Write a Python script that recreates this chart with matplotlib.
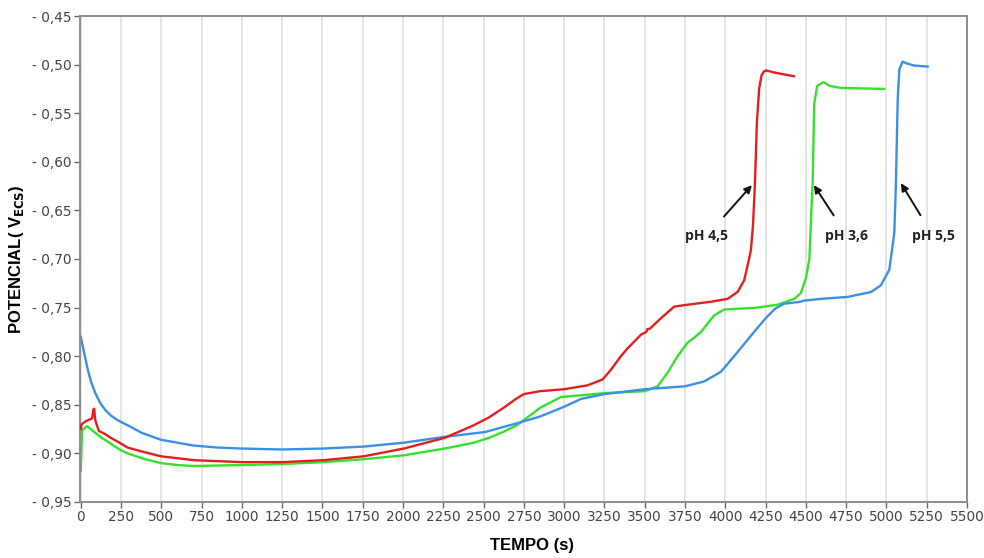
import numpy as np
import matplotlib
matplotlib.use("Agg")
import matplotlib.pyplot as plt

# Open-circuit potential vs time for three pH values
t_ph45 = [0, 5, 30, 70, 78, 83, 90, 112, 150, 186, 240, 290, 400, 497, 600, 703,
          850, 993, 1250, 1506, 1757, 2005, 2259, 2440, 2533, 2625, 2700, 2750,
          2850, 3000, 3145, 3238, 3290, 3352, 3393, 3476, 3510, 3517, 3530, 3600,
          3683, 3766, 3911, 4014, 4076, 4117, 4142, 4159, 4172, 4184, 4196, 4210,
          4225, 4240, 4255, 4300, 4426]
v_ph45 = [-0.875, -0.870, -0.867, -0.864, -0.855, -0.854, -0.866, -0.877, -0.880,
          -0.884, -0.889, -0.894, -0.899, -0.903, -0.905, -0.907, -0.908, -0.909,
          -0.909, -0.907, -0.903, -0.895, -0.884, -0.871, -0.863, -0.853, -0.844,
          -0.839, -0.836, -0.834, -0.830, -0.824, -0.814, -0.800, -0.792, -0.778,
          -0.775, -0.772, -0.772, -0.761, -0.749, -0.747, -0.744, -0.741, -0.734,
          -0.722, -0.704, -0.691, -0.665, -0.622, -0.560, -0.525, -0.511, -0.507,
          -0.506, -0.508, -0.512]

t_ph36 = [0, 8, 40, 83, 130, 186, 240, 290, 400, 497, 600, 703, 993, 1250, 1506,
          1757, 2005, 2259, 2440, 2533, 2620, 2707, 2852, 2980, 3120, 3250, 3500,
          3580, 3642, 3704, 3766, 3807, 3849, 3931, 3993, 4200, 4325, 4428, 4469,
          4500, 4522, 4532, 4542, 4552, 4570, 4610, 4650, 4717, 4985]
v_ph36 = [-0.918, -0.876, -0.872, -0.878, -0.884, -0.890, -0.896, -0.900, -0.906,
          -0.910, -0.912, -0.913, -0.912, -0.911, -0.909, -0.906, -0.902, -0.895,
          -0.889, -0.884, -0.878, -0.871, -0.853, -0.842, -0.840, -0.838, -0.836,
          -0.831, -0.817, -0.800, -0.786, -0.781, -0.775, -0.758, -0.752, -0.750,
          -0.747, -0.741, -0.735, -0.720, -0.700, -0.660, -0.622, -0.540, -0.522,
          -0.518, -0.522, -0.524, -0.525]

t_ph55 = [0, 10, 25, 45, 65, 90, 120, 150, 186, 230, 290, 380, 497, 600, 703, 850,
          993, 1250, 1506, 1757, 2005, 2259, 2510, 2707, 2852, 3000, 3104, 3250,
          3500, 3750, 3869, 3973, 4055, 4179, 4250, 4310, 4366, 4469, 4480, 4594,
          4759, 4904, 4966, 5018, 5049, 5059, 5070, 5080, 5100, 5130, 5173, 5256]
v_ph55 = [-0.780, -0.788, -0.800, -0.815, -0.827, -0.838, -0.848, -0.855, -0.861,
          -0.866, -0.871, -0.879, -0.886, -0.889, -0.892, -0.894, -0.895, -0.896,
          -0.895, -0.893, -0.889, -0.883, -0.878, -0.869, -0.862, -0.852, -0.844,
          -0.839, -0.834, -0.831, -0.826, -0.816, -0.800, -0.775, -0.761, -0.751,
          -0.746, -0.744, -0.743, -0.741, -0.739, -0.734, -0.727, -0.711, -0.673,
          -0.622, -0.536, -0.505, -0.497, -0.499, -0.501, -0.502]

x_ticks = list(range(0, 5501, 250))
y_ticks = [-0.95, -0.90, -0.85, -0.80, -0.75, -0.70, -0.65, -0.60, -0.55, -0.50, -0.45]

labels = ["pH 4,5", "pH 3,6", "pH 5,5"]
label_pos = [(3886, -0.676), (4755, -0.676), (5289, -0.676)]
arrow_tip = [(4165, -0.624), (4550, -0.624), (5090, -0.622)]

red = "#e41e1e"
green = "#35e12d"
blue = "#3c8fe6"

fig = plt.figure(figsize=(9.84, 5.58), dpi=100)
ax = fig.add_axes([0.0813, 0.1004, 0.9014, 0.8709])

ax.plot(t_ph45, v_ph45, color=red, lw=1.7, zorder=3, solid_joinstyle="round")
ax.plot(t_ph36, v_ph36, color=green, lw=1.7, zorder=2, solid_joinstyle="round")
ax.plot(t_ph55, v_ph55, color=blue, lw=1.7, zorder=2, solid_joinstyle="round")

ax.set_xlim(-5, 5500)
ax.set_ylim(-0.95, -0.45)
ax.set_xticks(x_ticks)
ax.set_xticklabels([str(x) for x in x_ticks])
ax.set_yticks(y_ticks)
ax.set_yticklabels(["- " + f"{abs(v):.2f}".replace(".", ",") for v in y_ticks])

ax.grid(axis="x", color="#e3e3e3", lw=1.3, zorder=0)
ax.set_axisbelow(True)
for sp in ax.spines.values():
    sp.set_color("#8c8c8c")
    sp.set_linewidth(1.4)
ax.tick_params(axis="both", direction="out", length=4, width=1, color="#666666",
               labelsize=9.8, labelcolor="#444444", pad=2)

ax.set_xlabel("TEMPO (s)", fontsize=12, fontweight="bold",
              family="Liberation Sans", labelpad=12)
ax.xaxis.set_label_coords(0.51, -0.075)
ax.set_ylabel(r"POTENCIAL( V$_{\mathbf{ECS}}$)", fontsize=12, fontweight="bold",
              family="Liberation Sans", labelpad=4)

for lab, (lx, ly), (tx, ty) in zip(labels, label_pos, arrow_tip):
    ax.annotate(lab, xy=(tx, ty), xytext=(lx, ly), ha="center", va="center",
                fontsize=10, fontweight="bold", family="Open Sans", color="#222222",
                arrowprops=dict(arrowstyle="-|>", color="#111111", lw=1.4,
                                mutation_scale=11, shrinkA=9, shrinkB=0))

fig.savefig("out.png", dpi=100)
